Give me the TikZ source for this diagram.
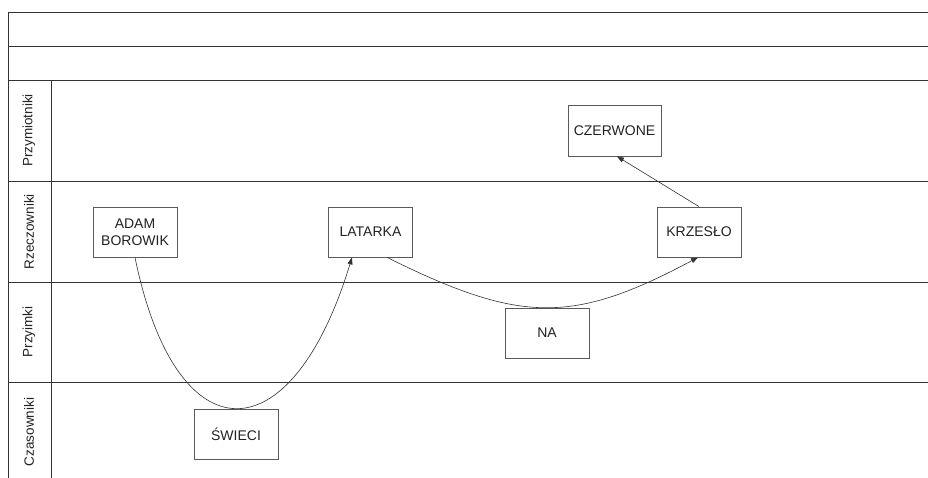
\documentclass[tikz,border=0pt]{standalone}
\usepackage{fontspec}
\setmainfont{Liberation Sans}
\usetikzlibrary{arrows.meta}
\definecolor{frameline}{HTML}{333333}
\definecolor{boxline}{HTML}{5A5A5A}
\definecolor{ink}{HTML}{222222}
\begin{document}
\begin{tikzpicture}[x=1pt,y=-1pt,
  lane/.style={draw=frameline,line width=0.9pt},
  lanelabel/.style={rotate=90,font=\fontsize{13.5}{16}\selectfont,text=ink,inner sep=0pt},
  word/.style={draw=boxline,line width=0.8pt,fill=white,minimum width=84pt,minimum height=50pt,
    inner sep=0pt,align=center,font=\fontsize{14}{17}\selectfont,text=ink},
  link/.style={draw=frameline,line width=0.6pt,-{Triangle[length=7pt,width=5pt]}}]
\useasboundingbox (0,0) rectangle (928,478);
\fill[white] (0,0) rectangle (928,478);

% swimlane frame
\coordinate (tl) at (8.5,12.5);
\coordinate (bl) at (8.5,478);
\draw[lane] (bl) -- (tl) -- (928,12.5);
\draw[lane] (8.5,46) -- (928,46);
\draw[lane] (8.5,80) -- (928,80);
\draw[lane] (8.5,181.5) -- (928,181.5);
\draw[lane] (8.5,282) -- (928,282);
\draw[lane] (8.5,382.5) -- (928,382.5);
\draw[lane] (51,80) -- (51,478);

% lane headers
\node[lanelabel] (lprzym) at (29,130.5) {Przymiotniki};
\node[lanelabel] (lrzecz) at (29,231.5) {Rzeczowniki};
\node[lanelabel] (lprzyi) at (29,332) {Przyimki};
\node[lanelabel] (lczas)  at (29,432) {Czasowniki};

% words
\node[word] (adam)   at (135,232)   {ADAM\\BOROWIK};
\node[word] (latarka) at (370.5,232) {LATARKA};
\node[word] (krzeslo) at (699,232)  {KRZESŁO};
\node[word,minimum width=93pt,minimum height=51pt] (czerwone) at (614.5,130.5) {CZERWONE};
\node[word] (na)     at (547,333)   {NA};
\node[word] (swieci) at (236,434)   {ŚWIECI};

% connectors
\draw[link] ([xshift=0pt]adam.south) .. controls (176,458) and (291,458) .. ([xshift=-18.5pt]latarka.south);
\draw[link] ([xshift=16.5pt]latarka.south) .. controls (521,324) and (573,324) .. ([xshift=-1pt]krzeslo.south);
\draw[link] (krzeslo.north) -- ([xshift=2.5pt]czerwone.south);
\end{tikzpicture}
\end{document}
